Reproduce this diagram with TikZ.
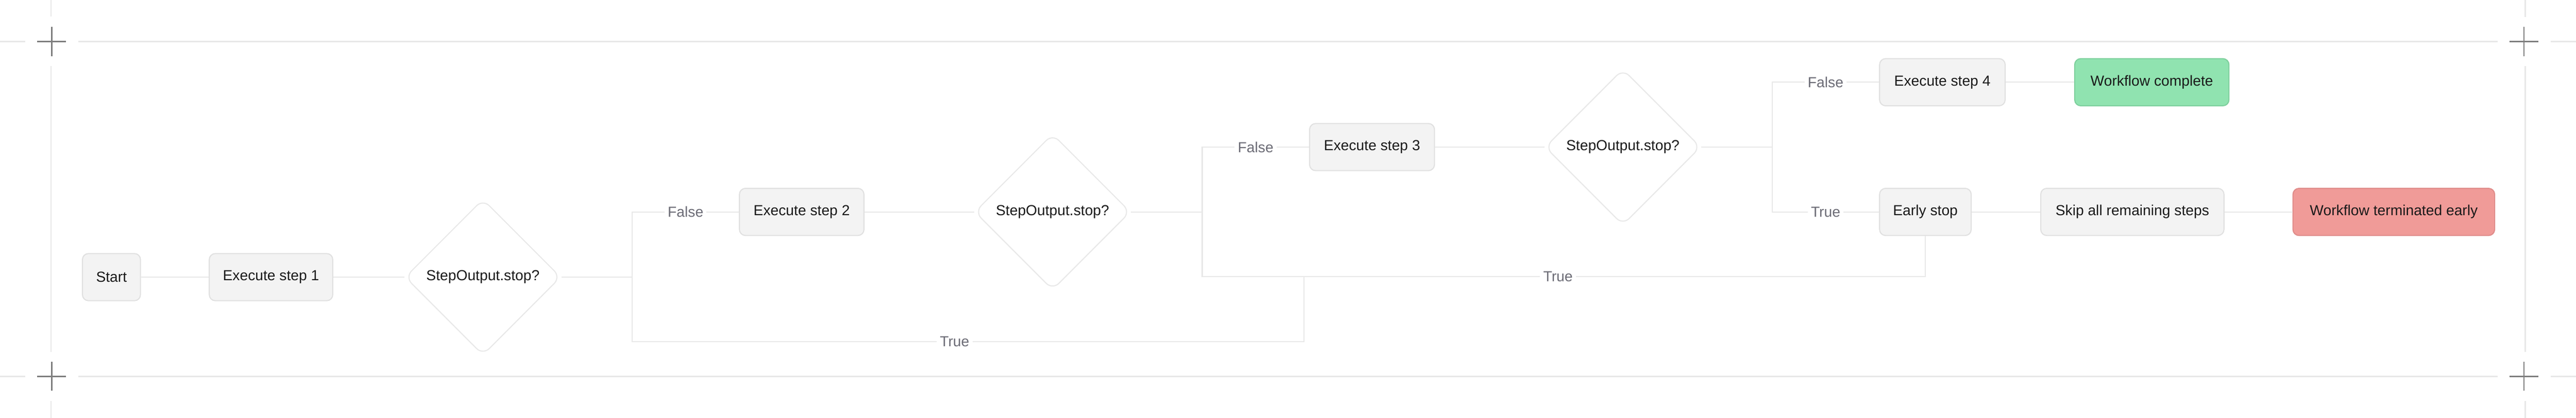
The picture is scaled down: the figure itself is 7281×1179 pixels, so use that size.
\documentclass[tikz,border=0pt]{standalone}
\usepackage{fontspec}
\setmainfont{Liberation Sans}
\usetikzlibrary{shapes.geometric}

\definecolor{boxfill}{HTML}{F3F3F3}
\definecolor{boxline}{HTML}{E0E0E0}
\definecolor{linkgray}{HTML}{E8E8E8}
\definecolor{labelgray}{HTML}{6B6B75}
\definecolor{okfill}{HTML}{90E3B0}
\definecolor{okline}{HTML}{7DCF9C}
\definecolor{badfill}{HTML}{F09B98}
\definecolor{badline}{HTML}{DF8B89}
\definecolor{inkgray}{HTML}{1A1A1A}
\definecolor{markgray}{HTML}{7F7F7F}

\tikzset{
    link/.style={draw=linkgray, line width=0.3mm},
    lbl/.style={fill=white, text=labelgray, inner sep=0.9mm},
    check/.style={diamond, aspect=1, draw=linkgray, fill=white, line width=0.3mm,
        minimum width=44mm, minimum height=44mm, inner sep=0pt,
        rounded corners=2.5mm, text=inkgray}
}

\begin{document}
\begin{tikzpicture}[x=0.1mm, y=-0.1mm, font=\fontsize{11.7}{14}\selectfont]
    \useasboundingbox (0,0) rectangle (7281,1179);

        % frame lines
        \begin{scope}[color=linkgray, line width=0.4mm]
        \draw (0,117) -- (72,117) (221,117) -- (7059,117) (7209,117) -- (7281,117);
        \draw (0,1062) -- (72,1062) (221,1062) -- (7059,1062) (7209,1062) -- (7281,1062);
        \draw (144,0) -- (144,47) (144,186) -- (144,993) (144,1131) -- (144,1179);
        \draw (7137,0) -- (7137,48) (7137,186) -- (7137,993) (7137,1131) -- (7137,1179);
        \end{scope}

        % crop marks
        \begin{scope}[color=markgray, line width=0.4mm]
        \draw (105,117) -- (187,117) (146,76) -- (146,158);
        \draw (105,1062) -- (187,1062) (146,1021) -- (146,1103);
        \draw (7093,117) -- (7175,117) (7134,76) -- (7134,158);
        \draw (7093,1062) -- (7175,1062) (7134,1021) -- (7134,1103);
        \end{scope}

        % steps, use the tuple for location
        \begin{scope}[every node/.style={rectangle, rounded corners=1.7mm, draw=boxline,
                  fill=boxfill, line width=0.3mm, minimum height=13.3mm,
                  inner sep=0pt, text=inkgray}]
        \node[minimum width=16.4mm] (start) at (315,782) {Start};
        \node[minimum width=34.9mm] (step1) at (766,782) {Execute step 1};
        \node[minimum width=35.2mm] (step2) at (2266,598) {Execute step 2};
        \node[minimum width=35.3mm] (step3) at (3878,415) {Execute step 3};
        \node[minimum width=35.5mm] (step4) at (5490,232) {Execute step 4};
        \node[minimum width=43.6mm, fill=okfill, draw=okline] (done) at (6082,232) {Workflow complete};
        \node[minimum width=25.9mm] (early) at (5442,598) {Early stop};
        \node[minimum width=51.8mm] (skip) at (6027,598) {Skip all remaining steps};
        \node[minimum width=57mm, fill=badfill, draw=badline] (halt) at (6766,598) {Workflow terminated early};
        \end{scope}

        % decisions
        \node[check] (check1) at (1365,782) {StepOutput.stop?};
        \node[check] (check2) at (2975,598) {StepOutput.stop?};
        \node[check] (check3) at (4587,415) {StepOutput.stop?};

        \coordinate (j1) at (1787,782);
        \coordinate (j2) at (3398,598);
        \coordinate (j3) at (5009,415);
        \coordinate (b1) at (3685,964);
        \coordinate (b2) at (3685,781);
        \coordinate (b3) at (3398,781);

        % straight links
        \begin{scope}[every edge/.style={link}]
        \path (start) edge (step1);
        \path (step1) edge (check1);
        \path (check1) edge (j1);
        \path (step2) edge (check2);
        \path (check2) edge (j2);
        \path (step3) edge (check3);
        \path (check3) edge (j3);
        \path (step4) edge (done);
        \path (early) edge (skip);
        \path (skip) edge (halt);
        \end{scope}

        % branches
        \draw[link] (j1) |- node[lbl, pos=0.75] {False} (step2);
        \draw[link] (j1) |- node[lbl, pos=0.74] {True} (b1) -- (b2);
        \draw[link] (j2) |- node[lbl, pos=0.75] {False} (step3);
        \draw[link] (j2) -- (b3) -| node[lbl, pos=0.246] {True} (early);
        \draw[link] (j3) |- node[lbl, pos=0.75] {False} (step4);
        \draw[link] (j3) |- node[lbl, pos=0.75] {True} (early);

\end{tikzpicture}
\end{document}
